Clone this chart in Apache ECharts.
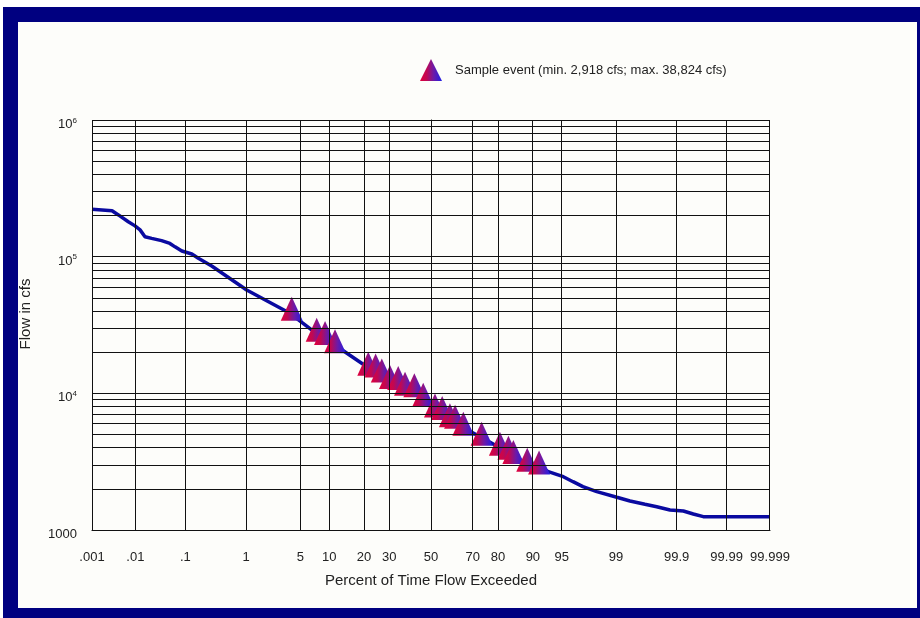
<!DOCTYPE html>
<html><head><meta charset="utf-8">
<script src="https://cdn.jsdelivr.net/npm/echarts@6/dist/echarts.min.js"></script>
<style>html,body{margin:0;padding:0;background:#fff}#c{width:920px;height:618px}</style>
</head><body><div id="c"></div>
<script>
// ---- data ----
const xTickLabels = ['.001','.01','.1','1','5','10','20','30','50','70','80','90','95','99','99.9','99.99','99.999'];
const yGridValues = [1000,2000,3000,4000,5000,6000,7000,8000,9000,
  10000,20000,30000,40000,50000,60000,70000,80000,90000,
  100000,200000,300000,400000,500000,600000,700000,800000,900000,1000000];
const curvePct = [0.001,0.003,0.0042,0.007,0.0098,0.0126,0.016,0.022,0.035,0.051,0.064,0.086,0.131,0.171,0.29,1.02,3.8,
  7.5,11.4,21.5,30.3,37.2,46.1,52,59.4,65.8,73.8,80.7,85,88.7,91.3,
  93.0,95.2,96.3,97.2,98.15,99.03,99.385,99.645,99.774,99.868,99.925,99.9517,99.9694,99.999];
const curveCfs = [222000,217000,202000,180000,168000,157000,140000,136000,131000,125000,118000,110000,104600,97300,85500,57000,38500,
  27300,22500,15400,12300,11000,9140,7630,6450,5600,4740,4000,3475,3055,2950,
  2670,2455,2257,2075,1907,1735,1631,1542,1481,1401,1377,1310,1252,1252];
const eventPct = [3.99,7.52,9.13,11.36,21.5,24.3,26.8,30.3,34.0,37.2,41.7,46.1,52.0,55.6,59.4,61.9,65.8,73.8,80.7,83.5,85.0,88.7,91.3];
const eventCfs = [38824,27300,25800,22500,15400,14960,13760,12290,12090,11000,10690,9140,7630,7290,6450,6300,5605,4738,4003,3740,3475,3055,2918];
const legendLabel = 'Sample event (min. 2,918 cfs; max. 38,824 cfs)';
const xAxisTitle = 'Percent of Time Flow Exceeded';
const yAxisTitle = 'Flow in cfs';

// ---- normal probability scale ----
function probit(p){
  const a=[-3.969683028665376e+01,2.209460984245205e+02,-2.759285104469687e+02,1.383577518672690e+02,-3.066479806614716e+01,2.506628277459239e+00];
  const b=[-5.447609879822406e+01,1.615858368580409e+02,-1.556989798598866e+02,6.680131188771972e+01,-1.328068155288572e+01];
  const c=[-7.784894002430293e-03,-3.223964580411365e-01,-2.400758277161838e+00,-2.549671348609518e+00,4.374664141464968e+00,2.938163982698783e+00];
  const d=[7.784695709041462e-03,3.224671290700398e-01,2.445134137142996e+00,3.754408661907416e+00];
  const plow=0.02425, phigh=1-plow;
  let q,r;
  if(p<plow){q=Math.sqrt(-2*Math.log(p));return (((((c[0]*q+c[1])*q+c[2])*q+c[3])*q+c[4])*q+c[5])/((((d[0]*q+d[1])*q+d[2])*q+d[3])*q+1);}
  if(p<=phigh){q=p-0.5;r=q*q;return (((((a[0]*r+a[1])*r+a[2])*r+a[3])*r+a[4])*r+a[5])*q/(((((b[0]*r+b[1])*r+b[2])*r+b[3])*r+b[4])*r+1);}
  q=Math.sqrt(-2*Math.log(1-p));return -(((((c[0]*q+c[1])*q+c[2])*q+c[3])*q+c[4])*q+c[5])/((((d[0]*q+d[1])*q+d[2])*q+d[3])*q+1);
}
const toZ = pct => probit(pct/100);
const xTickZ = xTickLabels.map(s => toZ(parseFloat(s)));
const curveData = curvePct.map((p,i)=>[toZ(p), curveCfs[i]]);
const eventData = eventPct.map((p,i)=>[toZ(p), eventCfs[i]]);

const font = 'Liberation Sans, Arial, sans-serif';
const chart = echarts.init(document.getElementById('c'));
const triGrad = new echarts.graphic.LinearGradient(0,0,1,0,[
  {offset:0,color:'#e0003c'},{offset:0.3,color:'#c00852'},{offset:0.62,color:'#6c1aa8'},{offset:1,color:'#1e1ee6'}]);

chart.setOption({
  backgroundColor:'#ffffff',
  animation:false,
  textStyle:{fontFamily:font},
  graphic:{elements:[
    {type:'rect',z:-10,shape:{x:3,y:7,width:917,height:611},style:{fill:'#000080'}},
    {type:'rect',z:-9,shape:{x:18,y:22,width:899,height:586},style:{fill:'#fdfdfa'}},
    {type:'text',z:10,x:26,y:314,rotation:Math.PI/2,
      style:{text:yAxisTitle,fontSize:15,fontFamily:font,fill:'#222',align:'center',verticalAlign:'middle'}}
  ]},
  legend:{
    left:415, top:54, itemWidth:22, itemHeight:22, icon:'triangle',
    data:[legendLabel],
    textStyle:{fontSize:13,color:'#222',fontFamily:font,padding:[0,0,0,8]}
  },
  grid:{left:92,right:150,top:120,bottom:88},
  xAxis:{
    type:'value', min:xTickZ[0], max:xTickZ[xTickZ.length-1],
    name:xAxisTitle, nameLocation:'middle', nameGap:43,
    nameTextStyle:{fontSize:15,color:'#222',fontFamily:font},
    axisLine:{show:true,lineStyle:{color:'#000',width:1}},
    axisTick:{show:false},
    splitLine:{show:false},
    axisLabel:{
      customValues:xTickZ, margin:21, fontSize:13, color:'#222', fontFamily:font,
      formatter:function(v){
        let best=0,bd=1e9;
        xTickZ.forEach((z,i)=>{const dd=Math.abs(z-v); if(dd<bd){bd=dd;best=i;}});
        return xTickLabels[best];
      }
    }
  },
  yAxis:{
    type:'log', logBase:10, min:1000, max:1000000, splitNumber:3,
    axisLine:{show:true,lineStyle:{color:'#000',width:1}},
    axisTick:{show:false},
    splitLine:{show:false},
    minorSplitLine:{show:false},
    axisLabel:{
      margin:15, fontSize:13, color:'#222', fontFamily:font, padding:[9,0,0,0],
      formatter:function(v){
        const e=Math.round(Math.log10(v));
        if(e===3) return '1000';
        return '10{sup|'+e+'}';
      },
      rich:{sup:{fontSize:8,color:'#222',padding:[0,0,8,0],fontFamily:font}}
    }
  },
  series:[
    {
      name:'grid', type:'line', data:[], z:1, silent:true, symbol:'none',
      markLine:{
        silent:true, symbol:['none','none'], label:{show:false},
        lineStyle:{color:'#111',width:1,type:'solid'},
        emphasis:{disabled:true},
        data:[...xTickZ.map(z=>({xAxis:z})), ...yGridValues.map(v=>({yAxis:v}))]
      }
    },
    {
      name:'Flow duration', type:'line', data:curveData, z:2, symbol:'none',
      lineStyle:{color:'#0a0aa0',width:3.5}
    },
    {
      name:legendLabel, type:'scatter', data:eventData, z:3,
      symbol:'triangle', symbolSize:[22,24], symbolOffset:[0,-4],
      itemStyle:{color:triGrad,opacity:1}
    }
  ]
});
</script>
</body></html>
